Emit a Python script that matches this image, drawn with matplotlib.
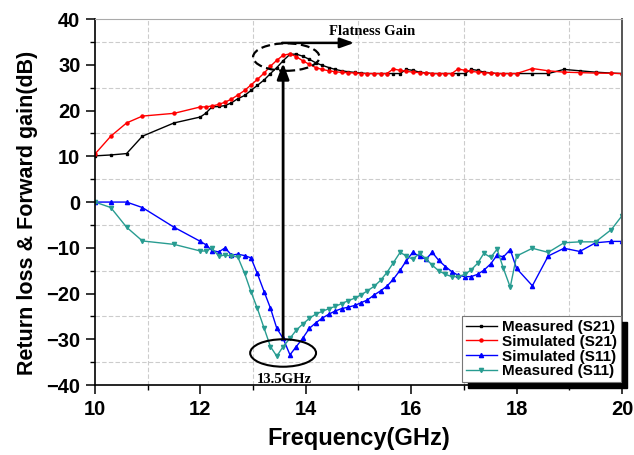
import matplotlib
matplotlib.use("Agg")
import matplotlib.pyplot as plt
from matplotlib.ticker import MultipleLocator
from matplotlib.patches import Ellipse, Rectangle
from matplotlib.transforms import IdentityTransform

plt.rcParams['font.family'] = ['Liberation Sans', 'DejaVu Sans']
plt.rcParams['font.weight'] = 'bold'
plt.rcParams['axes.labelweight'] = 'bold'

# data
freq = [10.0, 10.3, 10.6, 10.9, 11.5, 12.0,
        12.10, 12.22, 12.35, 12.47, 12.59, 12.71, 12.84, 12.96, 13.08, 13.21,
        13.33, 13.45, 13.57, 13.70, 13.82, 13.94, 14.07, 14.19, 14.31, 14.44,
        14.56, 14.68, 14.80, 14.93, 15.05, 15.17, 15.30, 15.42, 15.54, 15.66,
        15.79, 15.91, 16.03, 16.16, 16.28, 16.40, 16.52, 16.65, 16.77, 16.89,
        17.02, 17.14, 17.26, 17.38, 17.51, 17.63, 17.75, 17.88, 18.00,
        18.3, 18.6, 18.9, 19.2, 19.5, 19.8, 20.0]

meas_s21 = [10.1, 10.3, 10.6, 14.4, 17.3, 18.6,
            19.4, 20.8, 20.9, 21.1, 21.7, 22.6, 23.3, 24.4, 25.5, 26.7,
            28.1, 29.4, 30.9, 32.3, 32.35, 31.9, 31.2, 30.45, 29.9, 29.4,
            29.0, 28.7, 28.5, 28.35, 28.2, 28.1, 28.1, 28.1, 28.1, 28.1,
            28.1, 29.0, 28.8, 28.4, 28.25, 28.1, 28.1, 28.1, 28.1, 28.1,
            28.1, 29.0, 28.8, 28.4, 28.25, 28.1, 28.1, 28.1, 28.1,
            28.1, 28.1, 29.0, 28.7, 28.4, 28.2, 28.1]

sim_s21 = [10.5, 14.4, 17.3, 18.8, 19.4, 20.8,
           20.8, 21.0, 21.35, 21.85, 22.5, 23.4, 24.4, 25.6, 26.8, 28.2,
           29.7, 31.0, 32.1, 32.4, 31.8, 30.9, 30.1, 29.4, 29.0, 28.7,
           28.5, 28.35, 28.3, 28.2, 28.1, 28.1, 28.1, 28.1, 28.1, 29.1,
           28.8, 28.6, 28.4, 28.3, 28.2, 28.1, 28.1, 28.1, 28.1, 29.1,
           28.8, 28.6, 28.4, 28.3, 28.2, 28.1, 28.1, 28.1, 28.1,
           29.2, 28.7, 28.4, 28.3, 28.2, 28.15, 28.1]

sim_s11 = [0.0, 0.0, 0.0, -1.2, -5.5, -8.6,
           -9.3, -10.6, -10.9, -10.0, -11.6, -11.4, -11.7, -12.2, -15.6, -19.6,
           -23.2, -27.6, -29.8, -33.4, -31.6, -29.8, -27.6, -26.4, -25.4, -24.5,
           -23.8, -23.3, -23.0, -22.6, -22.0, -21.4, -20.3, -19.4, -18.4, -16.9,
           -14.9, -12.8, -11.0, -11.9, -12.5, -11.0, -12.7, -14.1, -15.2, -16.0,
           -16.3, -16.3, -15.8, -14.9, -13.5, -11.6, -12.0, -10.4, -14.5,
           -18.3, -11.8, -10.1, -10.8, -8.9, -8.6, -8.6]

meas_s11 = [0.0, -1.2, -5.5, -8.5, -9.25, -10.7,
            -10.7, -10.1, -11.8, -11.6, -11.8, -12.0, -15.6, -19.6, -23.2, -27.6,
            -31.6, -33.7, -31.6, -29.8, -28.0, -26.7, -25.4, -24.5, -23.9, -23.3,
            -22.8, -22.2, -21.6, -21.0, -20.3, -19.4, -18.4, -17.1, -15.4, -13.3,
            -11.0, -11.8, -12.5, -11.2, -12.4, -13.8, -15.0, -15.8, -16.3, -16.3,
            -15.8, -14.8, -13.4, -11.2, -12.1, -10.3, -14.5, -18.6, -11.8,
            -10.1, -11.0, -8.9, -8.7, -8.7, -6.0, -3.0]

teal = '#289c91'

fig, ax = plt.subplots(figsize=(6.34, 4.55), dpi=100)
fig.subplots_adjust(left=0.1498, right=0.981, bottom=0.1538, top=0.958)

ax.plot(freq, meas_s21, color='black', marker='s', ms=2.0, lw=1.0, label='Measured (S21)')
ax.plot(freq, sim_s21, color='red', marker='o', ms=2.2, lw=1.0, label='Simulated (S21)')
ax.plot(freq, sim_s11, color='blue', marker='^', ms=3.0, lw=1.0, label='Simulated (S11)')
ax.plot(freq, meas_s11, color=teal, marker='v', ms=3.0, lw=1.0, label='Measured (S11)')

ax.set_xlim(10, 20)
ax.set_ylim(-40, 40)
ax.xaxis.set_major_locator(MultipleLocator(2))
ax.xaxis.set_minor_locator(MultipleLocator(1))
ax.yaxis.set_major_locator(MultipleLocator(10))
ax.yaxis.set_minor_locator(MultipleLocator(5))
ax.grid(which='minor', ls=(0, (4, 2)), color='#cccccc', lw=0.8)
ax.tick_params(which='major', direction='out', length=6.5, width=1.1, labelsize=14.5, pad=4)
ax.tick_params(which='minor', direction='out', length=3.5, width=1.0)

for s in ['left', 'bottom']:
    ax.spines[s].set_linewidth(1.2)
ax.spines['top'].set_color('#aaaaaa')
ax.spines['top'].set_linewidth(0.8)
ax.spines['right'].set_color('#555555')
ax.spines['right'].set_linewidth(1.4)

ax.set_xlabel('Frequency(GHz)', fontsize=17)
ax.set_ylabel('Return loss & Forward gain(dB)', fontsize=15.5)
ax.xaxis.set_label_coords(0.5, -0.115)
ax.yaxis.set_label_coords(-0.109, 0.47)

# annotations
ax.add_patch(Ellipse((13.63, 31.7), 1.26, 6.0, fill=False, ls=(0, (4, 2)), lw=1.6, ec='black', zorder=6))
ax.add_patch(Ellipse((13.57, -33.0), 1.25, 6.0, fill=False, lw=1.5, ec='black', zorder=6))
ax.annotate('', xy=(13.57, 30.4), xytext=(13.57, -29.8),
            arrowprops=dict(arrowstyle='-|>,head_length=0.8,head_width=0.3', color='black',
                            lw=2.0, mutation_scale=12, shrinkA=0, shrinkB=0), zorder=7)
ax.annotate('', xy=(14.92, 34.8), xytext=(13.55, 34.8),
            arrowprops=dict(arrowstyle='-|>,head_length=0.7,head_width=0.25', color='black',
                            lw=1.8, mutation_scale=12, shrinkA=0, shrinkB=0), zorder=7)
ax.text(15.25, 37.4, 'Flatness Gain', fontfamily='Liberation Serif', fontweight='bold',
        fontsize=10.5, ha='center', va='center')
ax.text(13.6, -38.7, '13.5GHz', fontfamily='Liberation Serif', fontweight='bold',
        fontsize=10.5, ha='center', va='center')

leg = ax.legend(loc='lower right', bbox_to_anchor=(0.998, 0.008), borderaxespad=0,
                prop={'weight': 'bold', 'size': 11}, fancybox=False, edgecolor='#777777',
                framealpha=1, borderpad=0.25, labelspacing=0.05, handlelength=2.0,
                handletextpad=0.35)
leg.get_frame().set_linewidth(0.8)
leg.set_zorder(10)

fig.canvas.draw()
bb = leg.get_window_extent()
ax.add_patch(Rectangle((bb.x0 + 6, bb.y0 - 6), bb.width, bb.height, transform=IdentityTransform(),
                       color='black', zorder=9, clip_on=False))

fig.savefig('out.png', dpi=100)
